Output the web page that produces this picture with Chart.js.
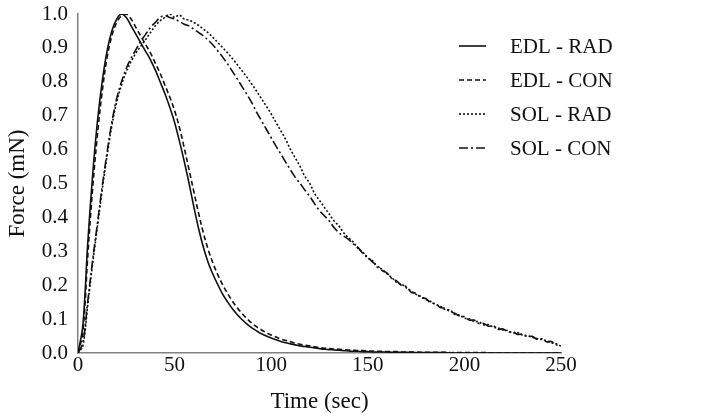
<!DOCTYPE html>
<html>
<head>
<meta charset="utf-8">
<script src="https://cdn.jsdelivr.net/npm/chart.js@4.4.1/dist/chart.umd.min.js"></script>
<style>
  html, body { margin: 0; padding: 0; background: #fff; }
  #wrap { width: 709px; height: 420px; }
</style>
</head>
<body>
<div id="wrap"><canvas id="forceChart" width="709" height="420"></canvas></div>
<script>
// time points (sec)
const TIME = [
    0, 2.5, 5, 7.5, 10, 12.5, 15, 17.5, 20, 22.5,
    25, 27.5, 30, 32.5, 35, 37.5, 40, 42.5, 45, 47.5,
    50, 52.5, 55, 57.5, 60, 62.5, 65, 67.5, 70, 72.5,
    75, 77.5, 80, 82.5, 85, 87.5, 90, 92.5, 95, 97.5,
    100, 102.5, 105, 107.5, 110, 112.5, 115, 117.5, 120, 122.5,
    125, 127.5, 130, 132.5, 135, 137.5, 140, 142.5, 145, 147.5,
    150, 152.5, 155, 157.5, 160, 162.5, 165, 167.5, 170, 172.5,
    175, 177.5, 180, 182.5, 185, 187.5, 190, 192.5, 195, 197.5,
    200, 202.5, 205, 207.5, 210, 212.5, 215, 217.5, 220, 222.5,
    225, 227.5, 230, 232.5, 235, 237.5, 240, 242.5, 245, 247.5,
    250
];

const EDL_RAD = [
    0, 0.08, 0.32, 0.52, 0.68, 0.8, 0.89, 0.95, 0.985, 1.0,
    0.99, 0.965, 0.94, 0.915, 0.89, 0.865, 0.835, 0.8, 0.765, 0.725,
    0.68, 0.625, 0.565, 0.5, 0.43, 0.365, 0.31, 0.265, 0.23, 0.2,
    0.172, 0.15, 0.13, 0.113, 0.098, 0.085, 0.074, 0.065, 0.057, 0.05,
    0.044, 0.039, 0.034, 0.03, 0.027, 0.024, 0.021, 0.019, 0.017, 0.015,
    0.013, 0.011, 0.01, 0.009, 0.008, 0.007, 0.006, 0.005, 0.005, 0.004,
    0.004, 0.003, 0.003, 0.003, 0.003, 0.002, 0.002, 0.002, 0.002, 0.002,
    0.001, 0.001, 0.001, 0.001, 0.001, 0.001, 0.001, 0, 0, 0,
    0, 0, 0, 0, 0, 0, 0, 0, 0, 0,
    0, 0, 0, 0, 0, 0, 0, 0, 0, 0,
    0
];

const EDL_CON = [
    0, 0.06, 0.28, 0.48, 0.64, 0.77, 0.87, 0.935, 0.975, 0.995,
    1.0, 0.985, 0.96, 0.935, 0.91, 0.885, 0.855, 0.825, 0.79, 0.755,
    0.715, 0.665, 0.605, 0.54, 0.475, 0.41, 0.352, 0.303, 0.263, 0.229,
    0.2, 0.175, 0.152, 0.133, 0.116, 0.101, 0.088, 0.077, 0.068, 0.06,
    0.053, 0.047, 0.041, 0.037, 0.033, 0.029, 0.026, 0.023, 0.021, 0.018,
    0.016, 0.014, 0.013, 0.012, 0.011, 0.01, 0.009, 0.008, 0.007, 0.007,
    0.006, 0.006, 0.005, 0.005, 0.004, 0.004, 0.004, 0.003, 0.003, 0.003,
    0.003, 0.002, 0.002, 0.002, 0.002, 0.002, 0.002, 0.001, 0.001, 0.001,
    0.001, 0.001, 0.001, 0.001, 0.001, 0.001, 0, 0, 0, 0,
    0, 0, 0, 0, 0, 0, 0, 0, 0, 0,
    0
];

const SOL_RAD = [
    0, 0.02, 0.14, 0.26, 0.37, 0.48, 0.58, 0.67, 0.74, 0.79,
    0.83, 0.86, 0.885, 0.905, 0.925, 0.945, 0.965, 0.98, 0.99, 1.0,
    0.99, 0.997, 0.985, 0.982, 0.975, 0.966, 0.955, 0.944, 0.93, 0.915,
    0.9, 0.885, 0.868, 0.85, 0.832, 0.813, 0.793, 0.772, 0.75, 0.728,
    0.705, 0.68, 0.655, 0.63, 0.6, 0.575, 0.55, 0.52, 0.5, 0.47,
    0.45, 0.43, 0.41, 0.39, 0.375, 0.355, 0.34, 0.327, 0.308, 0.297,
    0.28, 0.272, 0.253, 0.247, 0.233, 0.222, 0.208, 0.203, 0.192, 0.183,
    0.173, 0.167, 0.158, 0.152, 0.143, 0.138, 0.128, 0.127, 0.114, 0.112,
    0.103, 0.101, 0.093, 0.092, 0.083, 0.084, 0.076, 0.074, 0.068, 0.066,
    0.059, 0.06, 0.053, 0.051, 0.047, 0.043, 0.04, 0.036, 0.03, 0.027,
    0.02
];

const SOL_CON = [
    0, 0.03, 0.15, 0.27, 0.38, 0.49, 0.59, 0.68, 0.75, 0.8,
    0.84, 0.87, 0.895, 0.92, 0.94, 0.96, 0.975, 0.99, 0.995, 0.99,
    0.985, 0.978, 0.97, 0.965, 0.955, 0.945, 0.935, 0.922, 0.908, 0.89,
    0.872, 0.852, 0.83, 0.808, 0.785, 0.762, 0.738, 0.71, 0.685, 0.66,
    0.635, 0.61, 0.587, 0.563, 0.54, 0.518, 0.5, 0.48, 0.462, 0.44,
    0.42, 0.405, 0.39, 0.37, 0.355, 0.345, 0.335, 0.322, 0.311, 0.293,
    0.283, 0.268, 0.258, 0.243, 0.236, 0.219, 0.212, 0.199, 0.196, 0.179,
    0.176, 0.163, 0.161, 0.148, 0.146, 0.134, 0.132, 0.122, 0.117, 0.109,
    0.107, 0.097, 0.097, 0.087, 0.087, 0.079, 0.08, 0.07, 0.071, 0.062,
    0.063, 0.055, 0.056, 0.048, 0.049, 0.041, 0.042, 0.033, 0.034, 0.024,
    0.022
];

const SERIES_LABELS = ['EDL - RAD', 'EDL - CON', 'SOL - RAD', 'SOL - CON'];
const SERIES_DASH = [[], [5, 3], [2, 2], [9, 3, 2, 3]];

const FONT_FAMILY = '"Liberation Serif", "Times New Roman", serif';

function toPoints(values) {
    let points = [];
    for (let i = 0; i < TIME.length; i++) {
        points.push({ x: TIME[i], y: values[i] });
    }
    return points;
}

// legend drawn inside the plot, line sample + label
const lineLegend = {
    id: 'lineLegend',
    afterDraw(chart) {
        const ctx = chart.ctx;
        const x0 = 459, x1 = 486, textX = 510;
        const rows = [46, 80, 114, 148];
        ctx.save();
        ctx.font = '21px ' + FONT_FAMILY;
        ctx.textBaseline = 'middle';
        ctx.fillStyle = '#111';
        chart.data.datasets.forEach(function (ds, i) {
            ctx.beginPath();
            ctx.setLineDash(ds.borderDash || []);
            ctx.strokeStyle = ds.borderColor;
            ctx.lineWidth = ds.borderWidth;
            ctx.moveTo(x0, rows[i]);
            ctx.lineTo(x1, rows[i]);
            ctx.stroke();
            ctx.fillText(ds.label, textX, rows[i] + 1);
        });
        ctx.restore();
    }
};

const seriesValues = [EDL_RAD, EDL_CON, SOL_RAD, SOL_CON];

const config = {
    type: 'line',
    data: {
        datasets: seriesValues.map(function (vals, i) {
            return {
                label: SERIES_LABELS[i],
                data: toPoints(vals),
                borderColor: '#111',
                borderWidth: 1.6,
                borderDash: SERIES_DASH[i],
                pointRadius: 0,
                tension: 0.35,
                fill: false
            };
        })
    },
    options: {
        responsive: false,
        animation: false,
        layout: { padding: { top: 14, right: 148, left: 0, bottom: 0 } },
        plugins: {
            legend: { display: false },
            tooltip: { enabled: false }
        },
        scales: {
            x: {
                type: 'linear',
                min: 0,
                max: 250,
                grid: { display: false, drawTicks: false },
                border: { display: true, color: '#808080', width: 1.5 },
                ticks: {
                    stepSize: 50,
                    color: '#111',
                    padding: 0,
                    maxRotation: 0,
                    font: { family: FONT_FAMILY, size: 21 }
                },
                title: {
                    display: true,
                    text: 'Time (sec)',
                    color: '#111',
                    padding: { top: 2 },
                    font: { family: FONT_FAMILY, size: 23 }
                },
                afterFit: function (scale) {
                    scale.height = 67;
                    scale.paddingLeft = 0;
                    scale.paddingRight = 0;
                }
            },
            y: {
                min: 0,
                max: 1.0,
                grid: { display: false, drawTicks: false },
                border: { display: true, color: '#808080', width: 1.5 },
                ticks: {
                    stepSize: 0.1,
                    color: '#111',
                    padding: 10,
                    font: { family: FONT_FAMILY, size: 21 },
                    callback: function (v) { return v.toFixed(1); }
                },
                title: {
                    display: true,
                    text: 'Force (mN)',
                    color: '#111',
                    font: { family: FONT_FAMILY, size: 23 }
                },
                afterFit: function (scale) {
                    scale.width = 78;
                    scale.paddingTop = 0;
                    scale.paddingBottom = 0;
                }
            }
        }
    },
    plugins: [lineLegend]
};

new Chart('forceChart', config);
</script>
</body>
</html>
